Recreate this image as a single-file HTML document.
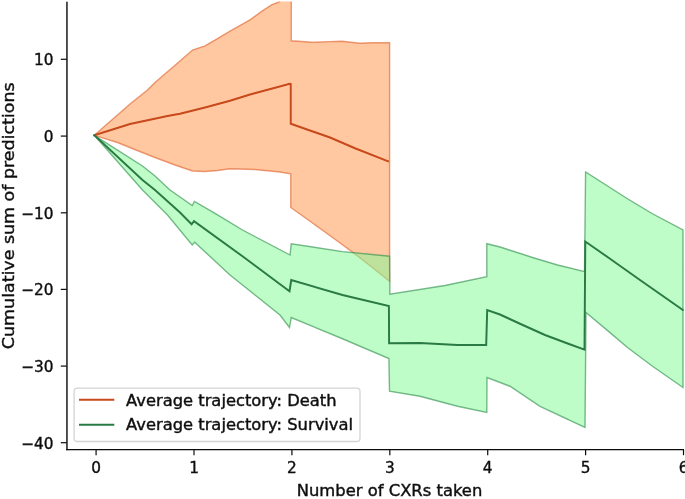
<!DOCTYPE html>
<html lang="en"><head><meta charset="utf-8"><title>Cumulative sum of predictions</title>
<style>
html,body{margin:0;padding:0;background:#fff;}
body{width:685px;height:499px;overflow:hidden;position:relative;font-family:"DejaVu Sans","Liberation Sans",sans-serif;}
.t{font-family:"DejaVu Sans","Liberation Sans",sans-serif;fill:#111;stroke:#111;stroke-width:0.4px;}
</style></head><body>
<svg width="685" height="499" viewBox="0 0 685 499" style="display:block;position:absolute;left:0;top:0">
<rect width="685" height="499" fill="#fff"/>
<defs><clipPath id="ax"><rect x="67" y="1.6" width="618" height="447.6"/></clipPath><filter id="soft" x="-2%" y="-2%" width="104%" height="104%"><feGaussianBlur stdDeviation="0.45"/></filter></defs>
<g filter="url(#soft)">
<g clip-path="url(#ax)">
<polygon points="94.30,135.30 106.00,125.00 117.50,115.00 130.00,104.00 147.50,90.00 155.00,82.50 180.00,61.00 192.50,50.00 205.00,45.80 217.50,38.60 230.00,31.20 250.00,19.80 262.00,11.20 271.60,4.80 279.00,1.80 284.00,-3.00 291.30,-3.00 291.30,40.80 312.00,42.30 330.00,41.60 342.00,41.20 360.00,43.20 372.00,42.80 389.60,42.80 389.60,281.20 372.00,267.20 354.50,253.60 336.00,240.00 312.50,223.00 290.75,207.50 290.75,173.75 280.00,172.00 255.00,169.50 230.00,168.75 217.50,170.50 205.00,171.50 192.50,171.00 175.00,165.00 155.00,157.50 136.00,150.00 117.50,142.50 94.30,135.30" fill="#ff7f22" fill-opacity="0.43" stroke="#dc5018" stroke-opacity="0.55" stroke-width="1.4" stroke-linejoin="miter"/>
<polygon points="94.30,135.30 142.50,166.00 155.00,176.00 170.00,190.00 192.20,205.60 194.50,201.40 215.00,213.30 242.50,230.00 290.00,255.00 291.25,243.75 342.50,251.60 389.60,256.20 389.90,294.20 445.00,285.50 486.80,276.80 486.80,243.75 500.00,247.00 532.50,257.50 557.50,265.00 584.50,271.60 585.60,172.00 627.50,198.75 652.50,213.75 683.00,230.00 683.00,387.50 652.50,366.25 627.50,347.50 610.00,332.60 586.00,312.50 585.00,427.40 540.00,406.30 510.00,386.25 487.00,377.50 486.80,412.50 457.50,406.25 420.00,396.25 389.50,391.25 388.90,358.50 342.50,338.75 291.25,317.50 289.50,327.50 280.00,315.00 230.00,275.00 194.70,242.20 192.20,244.90 167.50,215.00 142.50,190.00 94.30,135.30" fill="#84f997" fill-opacity="0.53" stroke="#2a8a48" stroke-opacity="0.6" stroke-width="1.4" stroke-linejoin="miter"/>
<polyline points="94.30,135.30 130.00,124.00 167.50,116.00 180.00,113.75 205.00,107.50 230.00,100.70 250.00,94.50 289.80,83.75 290.75,84.00 290.75,123.75 330.00,137.50 355.00,148.25 388.00,161.25" fill="none" stroke="#c8481a" stroke-width="1.95" stroke-linejoin="miter" stroke-linecap="square"/>
<polyline points="94.30,135.30 142.50,180.00 155.00,190.00 180.00,212.50 191.60,224.30 194.00,221.20 242.50,256.25 289.50,291.25 291.25,280.00 342.50,295.00 388.90,306.00 389.10,343.20 420.00,343.00 457.50,345.00 486.20,345.00 487.20,310.00 500.00,314.50 520.00,323.75 545.00,335.00 565.00,342.50 584.50,349.70 585.30,241.50 610.00,258.75 640.00,280.00 682.80,310.00" fill="none" stroke="#2a7a44" stroke-width="1.95" stroke-linejoin="miter" stroke-linecap="square"/>
</g>
<rect x="74.1" y="388.1" width="285.9" height="53.4" rx="3.2" ry="3.2" fill="#fff" fill-opacity="0.8" stroke="#d4d4d4" stroke-width="1.3"/>
<line x1="79" x2="114.3" y1="399.8" y2="399.8" stroke="#c8481a" stroke-width="2.1"/>
<line x1="79" x2="114.3" y1="424.8" y2="424.8" stroke="#2a7a44" stroke-width="2.1"/>
<text transform="translate(126.00,405.60) scale(1.0900,1)" font-size="15.0" text-anchor="start" class="t">Average trajectory: Death</text>
<text transform="translate(126.00,430.20) scale(1.0900,1)" font-size="15.0" text-anchor="start" class="t">Average trajectory: Survival</text>
<line x1="66.95" x2="66.95" y1="1.8" y2="450.2" stroke="#0c0c0c" stroke-width="1.45"/>
<line x1="66.3" x2="684" y1="449.6" y2="449.6" stroke="#0c0c0c" stroke-width="1.4"/>
<line x1="96.10" x2="96.10" y1="449.5" y2="455.2" stroke="#0c0c0c" stroke-width="1.2"/>
<text transform="translate(96.10,472.60) scale(1.0200,1)" font-size="15.0" text-anchor="middle" class="t">0</text>
<line x1="194.00" x2="194.00" y1="449.5" y2="455.2" stroke="#0c0c0c" stroke-width="1.2"/>
<text transform="translate(194.00,472.60) scale(1.0200,1)" font-size="15.0" text-anchor="middle" class="t">1</text>
<line x1="291.90" x2="291.90" y1="449.5" y2="455.2" stroke="#0c0c0c" stroke-width="1.2"/>
<text transform="translate(291.90,472.60) scale(1.0200,1)" font-size="15.0" text-anchor="middle" class="t">2</text>
<line x1="389.80" x2="389.80" y1="449.5" y2="455.2" stroke="#0c0c0c" stroke-width="1.2"/>
<text transform="translate(389.80,472.60) scale(1.0200,1)" font-size="15.0" text-anchor="middle" class="t">3</text>
<line x1="487.70" x2="487.70" y1="449.5" y2="455.2" stroke="#0c0c0c" stroke-width="1.2"/>
<text transform="translate(487.70,472.60) scale(1.0200,1)" font-size="15.0" text-anchor="middle" class="t">4</text>
<line x1="585.60" x2="585.60" y1="449.5" y2="455.2" stroke="#0c0c0c" stroke-width="1.2"/>
<text transform="translate(585.60,472.60) scale(1.0200,1)" font-size="15.0" text-anchor="middle" class="t">5</text>
<line x1="683.50" x2="683.50" y1="449.5" y2="455.2" stroke="#0c0c0c" stroke-width="1.2"/>
<text transform="translate(683.50,472.60) scale(1.0200,1)" font-size="15.0" text-anchor="middle" class="t">6</text>
<line x1="60.8" x2="66.9" y1="59.30" y2="59.30" stroke="#0c0c0c" stroke-width="1.2"/>
<text transform="translate(53.40,65.10) scale(1.0200,1)" font-size="15.0" text-anchor="end" class="t">10</text>
<line x1="60.8" x2="66.9" y1="136.10" y2="136.10" stroke="#0c0c0c" stroke-width="1.2"/>
<text transform="translate(53.40,141.90) scale(1.0200,1)" font-size="15.0" text-anchor="end" class="t">0</text>
<line x1="60.8" x2="66.9" y1="212.80" y2="212.80" stroke="#0c0c0c" stroke-width="1.2"/>
<text transform="translate(53.40,218.60) scale(1.0200,1)" font-size="15.0" text-anchor="end" class="t">−10</text>
<line x1="60.8" x2="66.9" y1="289.40" y2="289.40" stroke="#0c0c0c" stroke-width="1.2"/>
<text transform="translate(53.40,295.20) scale(1.0200,1)" font-size="15.0" text-anchor="end" class="t">−20</text>
<line x1="60.8" x2="66.9" y1="366.10" y2="366.10" stroke="#0c0c0c" stroke-width="1.2"/>
<text transform="translate(53.40,371.90) scale(1.0200,1)" font-size="15.0" text-anchor="end" class="t">−30</text>
<line x1="60.8" x2="66.9" y1="442.70" y2="442.70" stroke="#0c0c0c" stroke-width="1.2"/>
<text transform="translate(53.40,448.50) scale(1.0200,1)" font-size="15.0" text-anchor="end" class="t">−40</text>
<text transform="translate(389.50,496.00) scale(1.0710,1)" font-size="15.3" text-anchor="middle" class="t">Number of CXRs taken</text>
<text transform="translate(13.70,215.80) rotate(-90) scale(1.0640,1)" font-size="16.4" text-anchor="middle" class="t">Cumulative sum of predictions</text>
</g>
</svg>
</body></html>
